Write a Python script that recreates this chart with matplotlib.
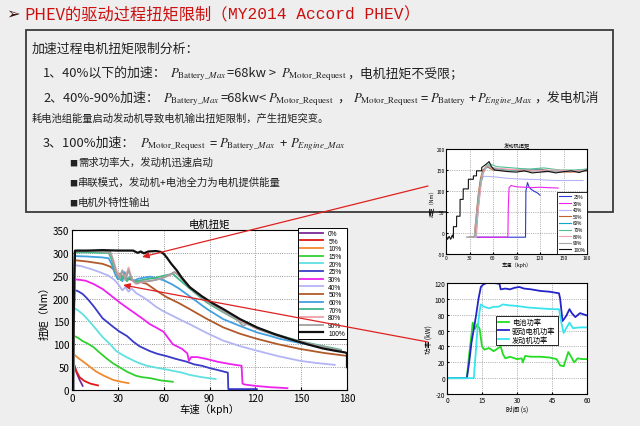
import matplotlib
matplotlib.use('Agg')
import matplotlib.pyplot as plt
from matplotlib.patches import Rectangle, FancyArrowPatch

# ---------------- data: main chart (motor torque vs speed) ----------------
m0_x = [1.0, 1.5, 3, 5, 7]
m0_y = [0, 55, 38, 22, 9]
m5_x = [0.8, 1.3, 3, 5, 8, 12, 17]
m5_y = [0, 55, 40, 28, 20, 14, 10]
m10_x = [0.8, 1, 4, 7, 12, 16, 21, 27, 32, 37]
m10_y = [0, 79, 70, 63, 50, 40, 31, 22, 18, 15]
m15_x = [0.8, 1, 4, 7, 10, 14, 18, 23, 27, 31, 36, 42, 46, 51, 58, 66]
m15_y = [0, 119, 114, 107, 102, 94, 82, 68, 58, 50, 40, 31, 28, 26, 21, 18]
m20_x = [0.8, 1.5, 4, 7, 12, 16, 20, 25, 29, 34, 38, 43, 49, 55, 60, 66, 72, 77, 85, 94]
m20_y = [0, 179, 174, 166, 148, 132, 116, 100, 85, 75, 68, 60, 53, 49, 46, 42, 38, 33, 28, 24]
m25_x = [0.8, 1.5, 4, 7, 10, 14, 20, 27, 31, 36, 40, 44, 51, 56, 62, 68, 75, 80, 85, 90, 95, 102, 102.3, 110, 121]
m25_y = [0, 219, 216, 210, 200, 184, 157, 138, 128, 118, 106, 96, 85, 79, 74, 68, 62, 56, 53, 48, 44, 38, 2, 2, 2]
m30_x = [0.8, 1.7, 5, 9, 14, 20, 25, 31, 36, 42, 47, 51, 56, 60, 66, 72, 75.5, 76.5, 78, 82, 88, 95, 103, 111, 111.6, 113, 120, 130, 141]
m30_y = [0, 242, 241, 239, 232, 221, 208, 192, 180, 166, 154, 144, 135, 127, 100, 90, 80, 64, 72, 72, 68, 62, 57, 53, 14, 12, 9, 6, 4]
m40_x = [0.8, 1.7, 6, 12, 18, 24, 28, 31, 33, 35, 37, 39, 42, 46, 50, 55, 60, 66, 72, 77, 88, 99, 110, 121, 135, 149, 160, 172]
m40_y = [0, 273, 271, 265, 258, 250, 240, 228, 218, 225, 215, 222, 212, 204, 195, 182, 172, 162, 152, 144, 125, 108, 96, 86, 74, 64, 59, 55]
m50_x = [0.8, 1.7, 10, 20, 25, 28, 31, 35, 40, 45, 49, 55, 62, 70, 77, 88, 99, 110, 121, 135, 149, 165, 179]
m50_y = [0, 284, 281, 276, 270, 262, 252, 245, 240, 236, 232, 218, 203, 190, 177, 156, 137, 123, 112, 100, 90, 81, 75]
m60_x = [0.8, 1.7, 10, 20, 24, 26, 28, 30, 31.5, 33, 34.5, 36, 38, 40, 43, 46, 51, 56, 60, 65, 70, 77, 88, 99, 110, 121, 130, 134, 136, 149, 160, 170]
m60_y = [0, 293, 292, 290, 288, 275, 255, 242, 255, 238, 258, 240, 246, 238, 243, 245, 248, 244, 240, 232, 222, 205, 178, 155, 140, 126, 118, 114, 112, 103, 96, 91]
m70_x = [0.8, 1.7, 10, 20, 24, 26, 28, 30, 32, 34, 36, 38, 41, 45, 50, 55, 60, 66, 70, 77, 88, 99, 110, 121, 135, 149, 160, 176]
m70_y = [0, 301, 301, 300, 300, 285, 262, 248, 240, 252, 238, 248, 236, 240, 243, 246, 250, 254, 242, 222, 192, 170, 150, 136, 120, 107, 99, 88]
m80_x = [0.8, 1.7, 10, 20, 25, 27, 29, 31, 33, 35, 37, 38.5, 40, 42, 45, 50, 55, 60, 64, 67, 70, 77, 88, 99, 110, 121, 135, 149, 162, 176]
m80_y = [0, 304, 304, 303, 302, 285, 262, 248, 258, 245, 268, 250, 238, 232, 236, 238, 241, 246, 252, 258, 252, 226, 196, 172, 152, 134, 118, 106, 96, 86]
m90_x = [0.8, 1.7, 10, 20, 25, 27, 29, 31, 33, 35, 37, 39, 41, 43, 45, 50, 55, 60, 64, 67, 70, 77, 88, 99, 108, 112, 115, 121, 135, 149, 162, 176]
m90_y = [0, 303, 304, 304, 303, 280, 255, 245, 262, 240, 262, 244, 236, 233, 237, 238, 241, 246, 252, 258, 250, 224, 195, 172, 154, 140, 146, 134, 118, 106, 96, 86]
m100_x = [0.5, 1.5, 2, 10, 20, 30, 40, 43, 45, 47, 50, 55, 58, 60, 62, 65, 68.5, 72, 77, 85, 92, 99, 110, 121, 132, 143, 154, 164, 172, 179, 180, 180]
m100_y = [0, 250, 305, 305, 306, 305, 305, 300, 303, 299, 303, 304, 302, 298, 290, 276, 262, 245, 225, 205, 190, 177, 155, 137, 123, 111, 100, 91, 86, 82, 80, 50]

main_labels = ['0%', '5%', '10%', '15%', '20%', '25%', '30%', '40%', '50%', '60%', '70%', '80%', '90%', '100%']
main_colors = ['#7a2a9a', '#e01818', '#f08a30', '#30d030', '#60e0e0', '#3a3ac8', '#ee22ee', '#b4b4f4',
               '#b05a2a', '#40a0e0', '#40b888', '#f0a0a8', '#a0a0a0', '#111111']

# ---------------- data: engine torque chart ----------------
e25_x = [35, 101.5, 102, 103, 104, 106, 108, 112, 117, 120]
e25_y = [-10, -10, 100, 110, 120, 110, 105, 100, 95, 90]
e30_x = [34, 79, 79.5, 80.5, 83, 90, 100, 110, 120, 130, 143]
e30_y = [-10, -10, 60, 108, 113, 110, 109, 108, 109, 108, 107]
e40_x = [32, 39, 41, 44, 48, 60, 80, 100, 120, 140, 160, 175]
e40_y = [-10, -10, 60, 120, 135, 134, 130, 128, 127, 125, 125, 125]
e50_x = [28, 36, 38, 41, 44, 47, 52, 60, 80, 100, 120, 140, 160, 180]
e50_y = [-10, -10, 30, 90, 130, 150, 158, 150, 150, 148, 152, 146, 145, 148]
e60_x = [30, 37, 40, 44, 48, 55, 60, 80, 100, 120, 140, 160, 180]
e60_y = [-10, -10, 40, 110, 150, 160, 155, 148, 152, 150, 147, 148, 152]
e70_x = [30, 38, 41, 45, 50, 55, 65, 85, 105, 125, 145, 165, 180]
e70_y = [-10, -10, 60, 130, 155, 165, 158, 155, 152, 155, 150, 150, 152]
e80_x = [30, 38, 41, 46, 52, 60, 80, 100, 120, 140, 160, 180]
e80_y = [-10, -10, 50, 135, 160, 155, 152, 150, 149, 150, 148, 150]
e90_x = [26, 36, 38, 42, 46, 52, 60, 80, 100, 120, 140, 160, 180]
e90_y = [-10, -10, 30, 100, 140, 162, 152, 148, 147, 145, 146, 147, 148]
e100_x = [0, 2, 4, 6, 8, 9.4, 9.5, 13.5, 13.6, 17.9, 18, 21.9, 22, 28.5, 28.6, 34.9, 35, 38.9, 39, 45.5, 45.6, 50,
          52, 55, 58, 62, 70, 80, 90, 100, 110, 120, 130, 140, 150, 160, 170, 180]
e100_y = [-5, -15, -8, -15, -5, -12, 15, 15, 40, 40, 80, 80, 105, 105, 128, 128, 136, 136, 148, 148, 156, 162,
          165, 170, 158, 150, 148, 146, 145, 148, 143, 145, 147, 143, 146, 148, 144, 150]
eng_labels = ['25%', '30%', '40%', '50%', '60%', '70%', '80%', '90%', '100%']
eng_colors = ['#2a3ad0', '#ee22ee', '#b4b4f8', '#c06030', '#10a8c8', '#50c090', '#f0a0b0', '#a8a8a8', '#111111']

# ---------------- data: power chart ----------------
pm_t = [0, 8.5, 9.5, 10.5, 11.5, 12.5, 13.5, 14.5, 15.5, 17, 20, 22.5, 23, 25, 27, 29, 31, 33, 36, 40, 44, 48, 48.5,
        49.5, 51, 52.5, 53.5, 55, 57, 59, 60]
pm_p = [0, 0, 20, 45, 62, 80, 100, 115, 118, 120, 120, 119, 112, 113, 112, 114, 115, 113, 112, 110, 109, 107, 100,
        72, 78, 87, 82, 77, 82, 80, 79]
pe_t = [0, 11.5, 12, 13, 14, 14.5, 16, 18, 20, 22, 24, 26, 30, 35, 40, 45, 48, 49, 50, 51.5, 52.5, 54, 57, 60]
pe_p = [0, 0, 20, 60, 85, 93, 90, 88, 90, 90, 93, 92, 91, 89, 88, 87, 87, 70, 57, 65, 70, 63, 64, 64]
pb_t = [0, 8.5, 9.5, 10.5, 11, 12, 13, 14, 15, 16, 18, 20, 22, 23, 24, 25, 27, 30, 32, 32.5, 33.5, 36, 40, 44, 47,
        48.5, 50, 51, 52, 53, 54.5, 56, 58, 60]
pb_p = [0, 0, 30, 55, 70, 62, 68, 62, 40, 36, 38, 34, 38, 40, 30, 25, 27, 24, 25, 20, 28, 27, 27, 26, 24, 16, 15,
        24, 33, 28, 20, 25, 24, 24]
pow_labels = ['电池功率', '驱动电机功率', '发动机功率']
pow_colors = ['#22dd22', '#2424c8', '#38e4ee']

# ---------------- figure ----------------
W, H = 640, 427
CJK = ['Noto Sans CJK SC', 'DejaVu Sans']
plt.rcParams['font.family'] = CJK
plt.rcParams['mathtext.fontset'] = 'stix'
plt.rcParams['axes.unicode_minus'] = False

fig = plt.figure(figsize=(6.4, 4.27), dpi=100, facecolor='#eeeeee')
renderer = fig.canvas.get_renderer()


def fx(x):
    return x / W


def fy(y):
    return 1 - y / H


def seq_text(x0, ybase, pieces, size, color='#222222'):
    x = x0
    for p in pieces:
        if isinstance(p, (int, float)):
            x += p
            continue
        s, fam = p
        t = fig.text(fx(x), fy(ybase), s, fontsize=size, color=color, family=fam,
                     va='baseline', ha='left', zorder=5)
        x += t.get_window_extent(renderer).width
    return x


# title
seq_text(6, 19, [('➢', ['DejaVu Sans']), 4], 11.7, color='#3a1010')
seq_text(24, 19, [('PHEV的驱动过程扭矩限制（', CJK),
                  ('MY2014 Accord PHEV', ['Liberation Mono']), ('）', CJK)], 11.7, color='#cc1010')

# text box
fig.patches.append(Rectangle((fx(26), fy(213)), (613 - 26) / W, (213 - 31) / H, transform=fig.transFigure,
                             facecolor='none', edgecolor='#3a3a3a', lw=1.3, zorder=-1))

PBM = r'$P_{\mathrm{Battery\_}Max}$'
PMR = r'$P_{\mathrm{Motor\_Request}}$'
PB = r'$P_{\mathrm{Battery}}$'
PEM = r'$P_{Engine\_Max}$'
S = 9.3
seq_text(32, 53, [('加速过程电机扭矩限制分析：', CJK)], S)
seq_text(43, 77, [('1、40%以下的加速：', CJK), 3, (PBM, CJK), ('=68kw > ', CJK), 3, (PMR, CJK),
                  ('，电机扭矩不受限；', CJK)], S)
seq_text(43, 102, [('2、40%-90%加速：', CJK), 4, (PBM, CJK), 1, ('=68kw<', CJK), 1, (PMR, CJK), 3, ('，', CJK), 3,
                   (PMR, CJK), 2, ('=', CJK), 2, (PB, CJK), 2, ('+', CJK), 2, (PEM, CJK), 1, ('，发电机消', CJK)], S)
seq_text(32, 122, [('耗电池组能量启动发动机导致电机输出扭矩限制，产生扭矩突变。', CJK)], 7.4)
seq_text(43, 147, [('3、100%加速：', CJK), 5, (PMR, CJK), 3, ('=', CJK), 3, (PBM, CJK), 3,
                   ('+', CJK), 3, (PEM, CJK)], S)
for yb, s in [(166, '需求功率大，发动机迅速启动'), (186, '串联模式，发动机+电池全力为电机提供能量'),
              (206, '电机外特性输出')]:
    fig.text(fx(69), fy(yb - 3), '■', fontsize=5.8, color='#222222', va='center', ha='left')
    fig.text(fx(78), fy(yb), s, fontsize=7.5, color='#222222', va='baseline', ha='left')

# ---------------- main chart ----------------
ax = fig.add_axes([fx(72), fy(391), (347 - 72) / W, (391 - 231) / H])
ax.set_facecolor('white')
main_x = [m0_x, m5_x, m10_x, m15_x, m20_x, m25_x, m30_x, m40_x, m50_x, m60_x, m70_x, m80_x, m90_x, m100_x]
main_y = [m0_y, m5_y, m10_y, m15_y, m20_y, m25_y, m30_y, m40_y, m50_y, m60_y, m70_y, m80_y, m90_y, m100_y]
for xs, ys, c, lab in zip(main_x, main_y, main_colors, main_labels):
    ax.plot(xs, ys, color=c, lw=1.6 if lab == '100%' else 1.3, label=lab)
ax.set_xlim(0, 180)
ax.set_ylim(0, 350)
ax.set_xticks(range(0, 181, 30))
ax.set_yticks(range(0, 351, 50))
ax.grid(True, ls=':', color='#777777', lw=0.6)
ax.tick_params(direction='in', labelsize=7, length=2.5, pad=2)
for sp in ax.spines.values():
    sp.set_color('black')
    sp.set_linewidth(0.8)
ax.set_title('电机扭矩', fontsize=7.5, pad=2)
ax.set_xlabel('车速（kph）', fontsize=7.5, labelpad=0)
ax.set_ylabel('扭矩（Nm）', fontsize=7.5, labelpad=2)
leg = ax.legend(loc='upper right', bbox_to_anchor=(1.0, 1.013), borderaxespad=0,
                prop={'family': 'Liberation Sans', 'size': 4.8},
                labelspacing=0.1, handlelength=3.4, handletextpad=0.8, borderpad=0.3,
                frameon=True, fancybox=False, edgecolor='black', framealpha=1)
leg.get_frame().set_linewidth(0.7)

# ---------------- engine torque chart ----------------
ax2 = fig.add_axes([fx(446), fy(255), (587 - 446) / W, (255 - 150) / H], zorder=3)
ax2.set_facecolor('white')
eng_x = [e25_x, e30_x, e40_x, e50_x, e60_x, e70_x, e80_x, e90_x, e100_x]
eng_y = [e25_y, e30_y, e40_y, e50_y, e60_y, e70_y, e80_y, e90_y, e100_y]
for xs, ys, c, lab in zip(eng_x, eng_y, eng_colors, eng_labels):
    ax2.plot(xs, ys, color=c, lw=0.8, label=lab)
ax2.set_xlim(0, 180)
ax2.set_ylim(-50, 200)
ax2.set_xticks(range(0, 181, 30))
ax2.set_yticks(range(-50, 201, 50))
ax2.grid(True, ls=':', color='#777777', lw=0.5)
ax2.tick_params(direction='in', labelsize=3.6, length=1.5, pad=1)
for sp in ax2.spines.values():
    sp.set_linewidth(0.8)
ax2.set_title('发动机扭矩', fontsize=3.8, pad=1.5)
ax2.set_xlabel('车速（kph）', fontsize=3.8, labelpad=0.5)
ax2.set_ylabel('扭矩（Nm）', fontsize=3.8, labelpad=1)
leg2 = ax2.legend(loc='lower right', borderaxespad=0.1, prop={'family': 'Liberation Sans', 'size': 3.4},
                  labelspacing=0.35, handlelength=2.6, handletextpad=0.5, borderpad=0.3,
                  fancybox=False, edgecolor='black', framealpha=1)
leg2.get_frame().set_linewidth(0.6)

# ---------------- power chart ----------------
ax3 = fig.add_axes([fx(447), fy(395), (587 - 447) / W, (395 - 284) / H], zorder=3)
ax3.set_facecolor('white')
for xs, ys, c, lab in zip([pb_t, pm_t, pe_t], [pb_p, pm_p, pe_p], pow_colors, pow_labels):
    ax3.plot(xs, ys, color=c, lw=1.3, label=lab)
ax3.set_xlim(0, 60)
ax3.set_ylim(-20, 120)
ax3.set_xticks(range(0, 61, 15))
ax3.set_yticks(range(-20, 121, 20))
ax3.grid(True, ls=':', color='#777777', lw=0.5)
ax3.tick_params(direction='in', labelsize=4.6, length=1.5, pad=1.2)
for sp in ax3.spines.values():
    sp.set_linewidth(0.8)
ax3.set_xlabel('时间 (s)', fontsize=4.8, labelpad=0.5)
ax3.set_ylabel('功率 (kW)', fontsize=4.8, labelpad=1)
leg3 = ax3.legend(loc='upper left', bbox_to_anchor=(0.35, 0.70), borderaxespad=0, fontsize=5.2,
                  labelspacing=0.1, handlelength=1.6, handletextpad=0.4, borderpad=0.25,
                  fancybox=False, edgecolor='black', framealpha=1)
leg3.get_frame().set_linewidth(0.6)

# ---------------- red arrows ----------------
for (x1, y1), (x2, y2) in [((428, 187), (142, 258)), ((428, 343), (123, 286))]:
    fig.patches.append(FancyArrowPatch((fx(x1), fy(y1)), (fx(x2), fy(y2)), transform=fig.transFigure,
                                       arrowstyle='-|>,head_length=4,head_width=1.8', color='#e02020',
                                       lw=0.9, zorder=10, shrinkA=0, shrinkB=0))

fig.savefig('out.png', dpi=100, facecolor=fig.get_facecolor())
